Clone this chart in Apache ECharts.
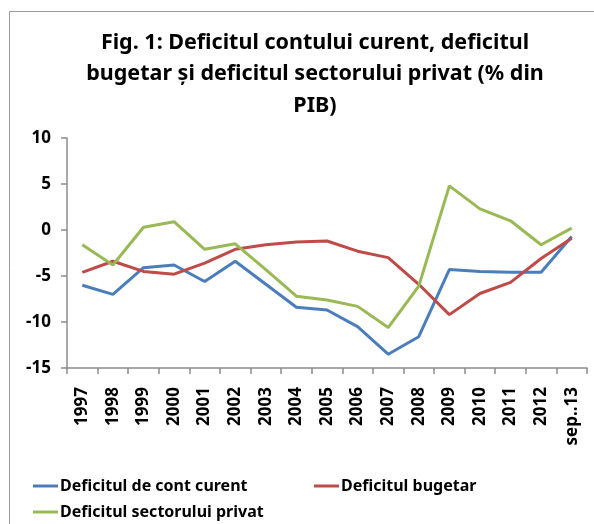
<!DOCTYPE html>
<html>
<head>
<meta charset="utf-8">
<script src="https://cdn.jsdelivr.net/npm/echarts@6/dist/echarts.min.js"></script>
<style>
  html, body { margin: 0; padding: 0; background: #fff; }
  #chart { width: 594px; height: 524px; }
</style>
</head>
<body>
<div id="chart"></div>
<script>
// ani / categorii
var years = ['1997', '1998', '1999', '2000', '2001', '2002', '2003', '2004', '2005',
             '2006', '2007', '2008', '2009', '2010', '2011', '2012', 'sep..13'];

// valori (% din PIB)
var contCurent = [-6.0, -7.0, -4.1, -3.8, -5.6, -3.4, -5.9, -8.4, -8.7,
                  -10.5, -13.5, -11.6, -4.3, -4.5, -4.6, -4.6, -0.7];
var bugetar = [-4.6, -3.4, -4.5, -4.8, -3.6, -2.1, -1.6, -1.3, -1.2,
               -2.3, -3.0, -5.9, -9.2, -6.9, -5.7, -3.1, -0.9];
var sectorPrivat = [-1.6, -3.8, 0.3, 0.9, -2.1, -1.5, -4.3, -7.2, -7.6,
                    -8.3, -10.6, -6.1, 4.8, 2.3, 1.0, -1.6, 0.2];

var yTicks = [-15, -10, -5, 0, 5, 10];

var numeSerii = ['Deficitul de cont curent', 'Deficitul bugetar', 'Deficitul sectorului privat'];
var culori = ['#4A7EBB', '#BE4B48', '#98B954'];

var font = '"Noto Sans", sans-serif';

var chart = echarts.init(document.getElementById('chart'));

function serie(idx, data) {
    return {
        name: numeSerii[idx],
        type: 'line',
        data: data,
        symbol: 'none',
        lineStyle: { color: culori[idx], width: 3 },
        itemStyle: { color: culori[idx] },
        z: 3 + idx
    };
}

function legenda(idx, left, top) {
    return {
        data: [numeSerii[idx]],
        left: left,
        top: top,
        padding: 0,
        itemWidth: 25,
        itemHeight: 3,
        itemGap: 0,
        icon: 'rect',
        textStyle: { fontFamily: font, fontWeight: 'bold', fontSize: 16, color: '#000', padding: [0, 0, 0, -3] }
    };
}

chart.setOption({
    animation: false,
    title: {
        text: 'Fig. 1: Deficitul contului curent, deficitul\nbugetar și deficitul sectorului privat (% din\nPIB)',
        left: 310,
        top: 22,
        textAlign: 'center',
        textStyle: { fontFamily: font, fontWeight: 'bold', fontSize: 21.5, lineHeight: 31.5, color: '#000' }
    },
    graphic: [{
        type: 'rect',
        shape: { x: 9.5, y: 11.5, width: 700, height: 600 },
        style: { fill: null, stroke: '#9a9a9a', lineWidth: 1 },
        silent: true
    }],
    legend: [
        legenda(0, 33, 478),
        legenda(1, 314, 478),
        legenda(2, 33, 504)
    ],
    grid: { left: 67, right: 7, top: 138, bottom: 156 },
    xAxis: [{
        type: 'category',
        data: years,
        position: 'bottom',
        axisLine: { show: false },
        axisTick: { show: false },
        axisLabel: {
            rotate: 90,
            margin: 19,
            interval: 0,
            fontFamily: font,
            fontWeight: 'bold',
            fontSize: 17,
            color: '#000'
        }
    }, {
        type: 'category',
        data: years,
        position: 'bottom',
        axisLine: { onZero: true, lineStyle: { color: '#8c8c8c', width: 1.5 } },
        axisTick: { show: true, length: 6, interval: 0, lineStyle: { color: '#8c8c8c', width: 1.5 } },
        axisLabel: { show: false }
    }],
    yAxis: {
        type: 'value',
        min: yTicks[0],
        max: yTicks[yTicks.length - 1],
        interval: 5,
        axisLine: { show: true, lineStyle: { color: '#8c8c8c', width: 1.5 } },
        axisTick: { show: true, length: 6, lineStyle: { color: '#8c8c8c', width: 1.5 } },
        splitLine: { show: false },
        axisLabel: {
            margin: 16,
            fontFamily: font,
            fontWeight: 'bold',
            fontSize: 17,
            color: '#000'
        }
    },
    series: [
        serie(0, contCurent),
        serie(1, bugetar),
        serie(2, sectorPrivat)
    ]
});
</script>
</body>
</html>
